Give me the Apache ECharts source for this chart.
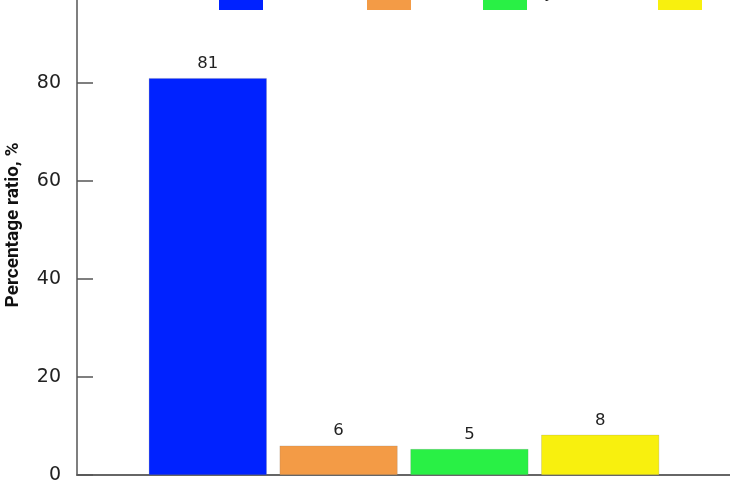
<!DOCTYPE html>
<html>
<head>
<meta charset="utf-8">
<script src="https://cdn.jsdelivr.net/npm/echarts@6/dist/echarts.min.js"></script>
<style>html,body{margin:0;padding:0;background:#fff;}#c{width:730px;height:486px;}</style>
</head>
<body>
<div id="c"></div>
<script>
const categories = ["Normal", "Mild", "Dysfunction", "Severe"];
const positions = [1, 2, 3, 4];
const values = [81, 6, 5.3, 8.2];
const colors = ["#0022ff", "#f39b46", "#29f045", "#f8f00e"];
const yTicks = [0, 20, 40, 60, 80, 100];
const legendLeft = [219, 367, 483, 658];

const series = categories.map((name, i) => ({
  name: name,
  type: 'bar',
  data: [[positions[i], values[i]]],
  barWidth: 118,
  barGap: '-100%',
  itemStyle: { color: colors[i], borderColor: 'rgba(120,120,120,0.35)', borderWidth: 0.6 },
  label: {
    show: true, position: 'top', distance: 6,
    formatter: p => Math.round(p.value[1]),
    color: '#222', fontSize: 16.5, fontFamily: 'DejaVu Sans'
  }
}));

const legends = categories.map((name, i) => ({
  data: [name],
  left: legendLeft[i],
  top: -22,
  padding: 0,
  itemWidth: 44,
  itemHeight: 32,
  icon: 'rect',
  itemStyle: { borderWidth: 0 },
  textStyle: { fontSize: 16, color: '#222', fontFamily: 'DejaVu Sans' },
  selectedMode: false
}));

const chart = echarts.init(document.getElementById('c'));
chart.setOption({
  animation: false,
  backgroundColor: '#fff',
  legend: legends,
  grid: { left: 77, right: -1, top: -15, bottom: 11, containLabel: false, outerBoundsMode: 'none' },
  xAxis: {
    type: 'value', min: 0, max: 5,
    axisLine: { show: true, lineStyle: { color: '#666', width: 2 } },
    axisTick: { show: false }, axisLabel: { show: false }, splitLine: { show: false }
  },
  yAxis: {
    type: 'value', min: yTicks[0], max: yTicks[yTicks.length - 1], interval: 20,
    name: 'Percentage ratio, %', nameLocation: 'middle', nameGap: 54, nameMoveOverlap: false,
    nameTextStyle: { fontWeight: 'bold', fontSize: 19, color: '#111', fontFamily: '"Liberation Sans Narrow", Roboto, sans-serif', padding: [0, 0, 0, 10] },
    axisLine: { show: true, lineStyle: { color: '#555', width: 1.5 } },
    axisTick: { show: true, inside: true, length: 16, lineStyle: { color: '#555', width: 1.5 } },
    axisLabel: { margin: 16, fontSize: 19, color: '#222', fontFamily: 'DejaVu Sans' },
    splitLine: { show: false }
  },
  series: series
});
</script>
</body>
</html>
